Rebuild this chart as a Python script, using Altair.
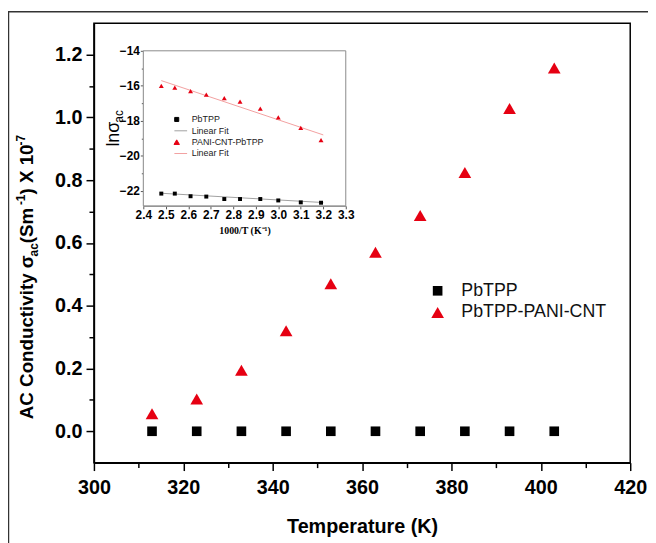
import altair as alt
import pandas as pd

# ---------------- data ----------------
temperature = [313, 323, 333, 343, 353, 363, 373, 383, 393, 403]
sigma_pbtpp = [0.0, 0.0, 0.0, 0.0, 0.0, 0.0, 0.0, 0.0, 0.0, 0.0]
sigma_pani = [0.056, 0.103, 0.194, 0.320, 0.470, 0.570, 0.687, 0.824, 1.028, 1.157]
series_names = ["PbTPP", "PbTPP-PANI-CNT"]

inv_temperature = [2.48, 2.54, 2.61, 2.68, 2.76, 2.83, 2.92, 3.00, 3.10, 3.19]
ln_pbtpp = [-22.15, -22.15, -22.30, -22.32, -22.46, -22.46, -22.46, -22.54, -22.65, -22.67]
ln_pani = [-16.0, -16.1, -16.3, -16.5, -16.7, -16.9, -17.3, -17.8, -18.4, -19.1]
fit_x = [2.48, 3.20]
fit_pbtpp = [-22.13, -22.66]
fit_pani = [-15.70, -18.80]
inset_entries = ["PbTPP", "Linear Fit", "PANI-CNT-PbTPP", "Linear Fit "]

x_ticks = [300, 310, 320, 330, 340, 350, 360, 370, 380, 390, 400, 410, 420]
y_ticks = [0.0, 0.1, 0.2, 0.3, 0.4, 0.5, 0.6, 0.7, 0.8, 0.9, 1.0, 1.1, 1.2]
inset_x_ticks = [2.4, 2.5, 2.6, 2.7, 2.8, 2.9, 3.0, 3.1, 3.2, 3.3]
inset_y_ticks = [-22, -21, -20, -19, -18, -17, -16, -15, -14]

# ---------------- styling ----------------
RED = "#e60012"
FONT = "Liberation Sans"
W, H = 543, 445

main_df = pd.DataFrame({
    "T": temperature + temperature,
    "sigma": sigma_pbtpp + sigma_pani,
    "series": [series_names[0]] * len(temperature) + [series_names[1]] * len(temperature),
})
inset_pb_df = pd.DataFrame({"invT": inv_temperature, "ln": ln_pbtpp})
inset_pani_df = pd.DataFrame({"invT": inv_temperature, "ln": ln_pani})
fit_pb_df = pd.DataFrame({"invT": fit_x, "ln": fit_pbtpp})
fit_pani_df = pd.DataFrame({"invT": fit_x, "ln": fit_pani})
box_df = pd.DataFrame({"invT": [inset_x_ticks[0]], "invT2": [inset_x_ticks[-1]],
                       "ln": [inset_y_ticks[-1]], "ln2": [-22.85]})
leg_df = pd.DataFrame({"entry": inset_entries, "invT": [5.0] * 4, "ln": [-18.0] * 4})
dummy = pd.DataFrame({"k": [0]})

# ---------------- main chart ----------------
main_legend = alt.Legend(title=None, orient="none", legendX=339, legendY=262,
                         labelFont=FONT, labelFontSize=18, labelFontWeight="normal",
                         labelColor="#111111", symbolSize=125, rowPadding=4,
                         labelOffset=15, padding=0, symbolStrokeWidth=0)

x_main = alt.X("T:Q", scale=alt.Scale(domain=[300, 420], nice=False, zero=False),
               axis=alt.Axis(values=x_ticks, format="d", title="Temperature (K)",
                             labelExpr="datum.value % 20 == 0 ? datum.label : ''",
                             tickSize={"condition": {"test": "datum.value % 20 == 0", "value": 8}, "value": 5},
                             labelPadding=7, titlePadding=20, labelFlush=False))
y_main = alt.Y("sigma:Q", scale=alt.Scale(domain=[-0.1, 1.3], nice=False, zero=False),
               axis=alt.Axis(values=y_ticks, title=None,
                             labelExpr="abs(round(datum.value*10)) % 2 == 0 ? format(datum.value, '.1f') : ''",
                             tickSize={"condition": {"test": "abs(round(datum.value*10)) % 2 == 0", "value": 8}, "value": 5},
                             labelPadding=4, labelFlush=False))

main_pts = alt.Chart(main_df).mark_point(filled=True, opacity=1, strokeWidth=0).encode(
    x=x_main, y=y_main,
    color=alt.Color("series:N", scale=alt.Scale(domain=series_names, range=["#000000", RED]), legend=main_legend),
    shape=alt.Shape("series:N", scale=alt.Scale(domain=series_names, range=["square", "triangle-up"]), legend=main_legend),
    size=alt.Size("series:N", scale=alt.Scale(domain=series_names, range=[95, 165]), legend=None),
)

# ---------------- inset ----------------
x_in = alt.X("invT:Q", scale=alt.Scale(domain=[2.4, 3.3], range=[50, 255], nice=False, zero=False),
             axis=alt.Axis(orient="bottom", offset=-260, values=inset_x_ticks, format=".1f",
                           title="1000/T (K⁻¹)", titleFont="Liberation Serif", titleFontSize=10,
                           titleFontWeight="bold", titlePadding=5, labelFontSize=12, labelPadding=1,
                           tickSize=3, tickWidth=1, tickColor="#555555", domainColor="#8a8a8a",
                           domainWidth=1, labelFlush=False, labelOverlap=False))
y_in = alt.Y("ln:Q", scale=alt.Scale(domain=[-22.85, -14], range=[185, 28], nice=False, zero=False),
             axis=alt.Axis(orient="left", offset=-50, values=inset_y_ticks, title=None,
                           labelExpr="datum.value % 2 == 0 ? datum.label : ''",
                           tickSize={"condition": {"test": "datum.value % 2 == 0", "value": 3}, "value": 2},
                           labelFontSize=12, labelPadding=1, tickWidth=1, tickColor="#555555",
                           domainColor="#8a8a8a", domainWidth=1, labelFlush=False, labelOverlap=False))

inset_box = alt.Chart(box_df).mark_rect(fill="white", stroke="#8a8a8a", strokeWidth=1).encode(
    x=x_in, x2="invT2:Q", y=y_in, y2="ln2:Q")
fit_pb_line = alt.Chart(fit_pb_df).mark_line(color="#a0a0a0", strokeWidth=1).encode(x=x_in, y=y_in)
fit_pani_line = alt.Chart(fit_pani_df).mark_line(color="#f2a0a0", strokeWidth=1).encode(x=x_in, y=y_in)
inset_pb_pts = alt.Chart(inset_pb_df).mark_point(shape="square", filled=True, size=16, color="#000000",
                                                  opacity=1).encode(x=x_in, y=y_in)
inset_pani_pts = alt.Chart(inset_pani_df).mark_point(shape="triangle-up", filled=True, size=25, color=RED,
                                                      opacity=1).encode(x=x_in, y=y_in)

# legend glyphs: small square / long line / small triangle / long line (unit-box SVG paths)
legend_shapes = [
    "M-1,-0.75L0.5,-0.75L0.5,0.75L-1,0.75Z",
    "M-1.1,0L3.6,0",
    "M-0.25,-0.85L0.75,0.85L-1.25,0.85Z",
    "M-1.1,0L3.6,0",
]
inset_legend = alt.Legend(title=None, orient="none", legendX=80, legendY=93,
                          labelFont=FONT, labelFontSize=9, labelFontWeight="normal",
                          labelColor="#222222", rowPadding=1.5, labelOffset=10, padding=0,
                          symbolSize=30, symbolStrokeWidth=1)
in_colors = ["#000000", "#a0a0a0", RED, "#f2a0a0"]
inset_leg = alt.Chart(leg_df).mark_point(filled=True, clip=True, opacity=1).encode(
    x=x_in, y=y_in,
    fill=alt.Fill("entry:N", scale=alt.Scale(domain=inset_entries, range=in_colors), legend=inset_legend),
    stroke=alt.Stroke("entry:N", scale=alt.Scale(domain=inset_entries, range=in_colors), legend=inset_legend),
    shape=alt.Shape("entry:N", scale=alt.Scale(domain=inset_entries, range=legend_shapes),
                    legend=inset_legend),
)

inset_layer = alt.layer(inset_box, fit_pb_line, fit_pani_line, inset_pb_pts, inset_pani_pts, inset_leg)

# ---------------- text annotations (titles with sub/superscripts) ----------------
BOLD_W = {"A": 722, "C": 722, " ": 278, "o": 611, "n": 611, "d": 611, "u": 611, "c": 556,
          "t": 333, "i": 278, "v": 556, "y": 556, "σ": 617, "(": 333, "S": 667, "m": 889,
          ")": 333, "X": 667, "1": 556, "0": 556, "-": 333, "7": 556, "a": 556, "l": 278}
REG_W = {"l": 222, "n": 556, "σ": 571, "a": 556, "c": 500}


def width(s, size, table):
    return sum(table[c] for c in s) * size / 1000.0


def rotated_pieces(pieces, x0, y0, weight, table):
    charts = []
    y = y0
    for txt, size, shift, pre_gap in pieces:
        y += pre_gap
        charts.append(
            alt.Chart(dummy).mark_text(text=txt, angle=270, align="left", baseline="alphabetic",
                                       font=FONT, fontSize=size, fontWeight=weight, color="black")
            .encode(x=alt.value(x0 + shift), y=alt.value(y))
        )
        y -= width(txt, size, table)
    return charts


y_title = rotated_pieces(
    [("AC Conductivity σ", 19, 0, 0), ("ac", 12, 5, 0), (" (Sm", 19, 0, 0), ("-1", 12, -8, 2.5),
     (") X 10", 19, 0, 0), ("-7", 12, -8, 1)],
    -62, 401, "bold", BOLD_W)
inset_title = rotated_pieces([("lnσ", 18, 0, 0), ("ac", 12, 4, 0)], 25, 125, "normal", REG_W)

frame = alt.Chart(dummy).mark_rect(filled=False, stroke="#333333", strokeWidth=1.5).encode(
    x=alt.value(-86.5), x2=alt.value(700), y=alt.value(-11.5), y2=alt.value(700))

chart = alt.layer(main_pts, inset_layer, frame, *y_title, *inset_title).resolve_scale(
    x="independent", y="independent", color="independent", shape="independent",
    size="independent", fill="independent", stroke="independent"
).resolve_legend(
    color="independent", shape="independent", size="independent", fill="independent", stroke="independent"
).properties(
    width=W, height=H,
    autosize=alt.AutoSizeParams(type="none"),
    padding={"left": 87, "top": 12, "right": 18, "bottom": 78},
).configure_axis(
    grid=False, domainColor="black", domainWidth=1.5, tickColor="black", tickWidth=1.5,
    labelFont=FONT, labelFontWeight="bold", labelFontSize=20, labelColor="black",
    titleFont=FONT, titleFontWeight="bold", titleFontSize=20, titleColor="black",
).configure_view(stroke="black", strokeWidth=1.5)

chart.save("out.html", embed_options={"renderer": "svg", "actions": False})
